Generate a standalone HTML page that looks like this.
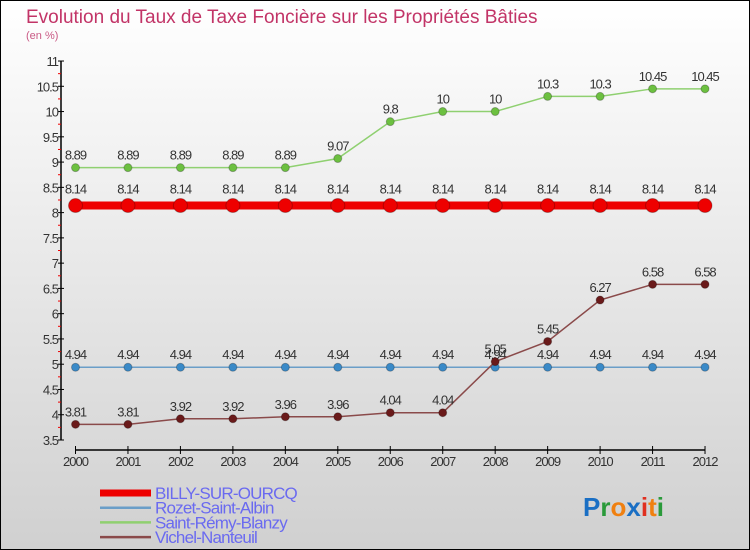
<!DOCTYPE html>
<html><head><meta charset="utf-8"><style>
body{margin:0;width:750px;height:550px;overflow:hidden}
svg{display:block}
text{font-family:"Liberation Sans",sans-serif}
</style></head><body>
<svg id="c" width="750" height="550" xmlns="http://www.w3.org/2000/svg">
<defs><linearGradient id="bg" x1="0" y1="0" x2="0" y2="1"><stop offset="0" stop-color="#ffffff"/><stop offset="1" stop-color="#d0d0d0"/></linearGradient></defs>
<rect x="0.5" y="0.5" width="749" height="549" fill="url(#bg)" stroke="#000"/>
<text x="26" y="23" font-size="19" fill="#c23467">Evolution du Taux de Taxe Foncière sur les Propriétés Bâties</text>
<text x="26" y="39" font-size="11" fill="#c95a85">(en %)</text>
<g id="axes"></g><g id="series"></g><g id="legend"></g>
<text x="583" y="516" font-size="26" font-weight="bold"><tspan fill="#1a6fc4">P</tspan><tspan fill="#2a9a3a">r</tspan><tspan fill="#f08010">o</tspan><tspan fill="#1a6fc4">x</tspan><tspan fill="#e03020">i</tspan><tspan fill="#f08010">t</tspan><tspan fill="#2a9a3a">i</tspan></text>
</svg>
<script>
const years=["2000","2001","2002","2003","2004","2005","2006","2007","2008","2009","2010","2011","2012"];
const billy=[8.14,8.14,8.14,8.14,8.14,8.14,8.14,8.14,8.14,8.14,8.14,8.14,8.14];
const rozet=[4.94,4.94,4.94,4.94,4.94,4.94,4.94,4.94,4.94,4.94,4.94,4.94,4.94];
const remy=[8.89,8.89,8.89,8.89,8.89,9.07,9.8,10,10,10.3,10.3,10.45,10.45];
const vichel=[3.81,3.81,3.92,3.92,3.96,3.96,4.04,4.04,5.05,5.45,6.27,6.58,6.58];
const yTicks=[3.5,4,4.5,5,5.5,6,6.5,7,7.5,8,8.5,9,9.5,10,10.5,11];
const NS="http://www.w3.org/2000/svg";
const X=i=>75.5+i*52.46;
const Y=v=>440-(v-3.5)*50.53;
function mk(t,a,p){const e=document.createElementNS(NS,t);for(const k in a)e.setAttribute(k,a[k]);p.appendChild(e);return e;}
const ax=document.getElementById('axes');
let l=mk('line',{x1:61,y1:Y(11),x2:61,y2:Y(3.5),stroke:'#000','stroke-width':1.5},ax);


yTicks.forEach(v=>{
  mk('line',{x1:58,y1:Y(v),x2:64,y2:Y(v),stroke:'#000'},ax);
  if(v<11)mk('line',{x1:58,y1:Y(v+0.25),x2:61,y2:Y(v+0.25),stroke:'#e00'},ax);
  const t=mk('text',{x:58,y:Y(v)+5,'text-anchor':'end','font-size':13,fill:'#333','letter-spacing':'-1'},ax);
  t.textContent=String(v);
  
  
});
l=mk('line',{x1:X(0),y1:450,x2:X(12),y2:450,stroke:'#000','stroke-width':1.5},ax);


years.forEach((y,i)=>{
  mk('line',{x1:X(i),y1:446,x2:X(i),y2:454,stroke:'#000'},ax);
  const t=mk('text',{x:X(i),y:466,'text-anchor':'middle','font-size':13,fill:'#333','letter-spacing':'-1'},ax);
  t.textContent=y;
  
  
});
const S=document.getElementById('series');
const defs=[
 {name:'BILLY-SUR-OURCQ',d:billy,c:'#ee0000',w:8,r:7,key:'billy'},
 {name:'Rozet-Saint-Albin',d:rozet,c:'#3a8ac8',w:1.5,r:4,key:'rozet',lc:'#6a9ec8'},
 {name:'Saint-Rémy-Blanzy',d:remy,c:'#6cc040',w:1.5,r:4,key:'remy',lc:'#8fd070'},
 {name:'Vichel-Nanteuil',d:vichel,c:'#6a1a1a',w:1.5,r:4,key:'vichel',lc:'#8a4a4a'}
];
defs.forEach(s=>{
  const g=mk('g',{},S);
  
  
  const pl=mk('polyline',{points:s.d.map((v,i)=>X(i)+','+Y(v)).join(' '),fill:'none',stroke:s.lc||s.c,'stroke-width':s.w},g);
  
  
  s.d.forEach((v,i)=>{
    const c=mk('circle',{cx:X(i),cy:Y(v),r:s.r,fill:s.c,stroke:'rgba(0,0,0,0.25)'},g);
    
    
    const t=mk('text',{x:X(i),y:Y(v)-(s.key==='billy'?12:8),'text-anchor':'middle','font-size':13,fill:'#333','letter-spacing':'-1'},g);
    t.textContent=String(v);
    
    
  });
});
const L=document.getElementById('legend');
defs.forEach((s,i)=>{
  const y=493+i*14.7;
  const g=mk('g',{},L);
  
  
  mk('line',{x1:100,y1:y,x2:151,y2:y,stroke:s.lc||s.c,'stroke-width':s.key==='billy'?7:2.5},g);
  const t=mk('text',{x:155,y:y+6,'font-size':17,fill:'#6a6af0','letter-spacing':'-0.8'},g);
  t.textContent=s.name;
});
</script>
</body></html>
